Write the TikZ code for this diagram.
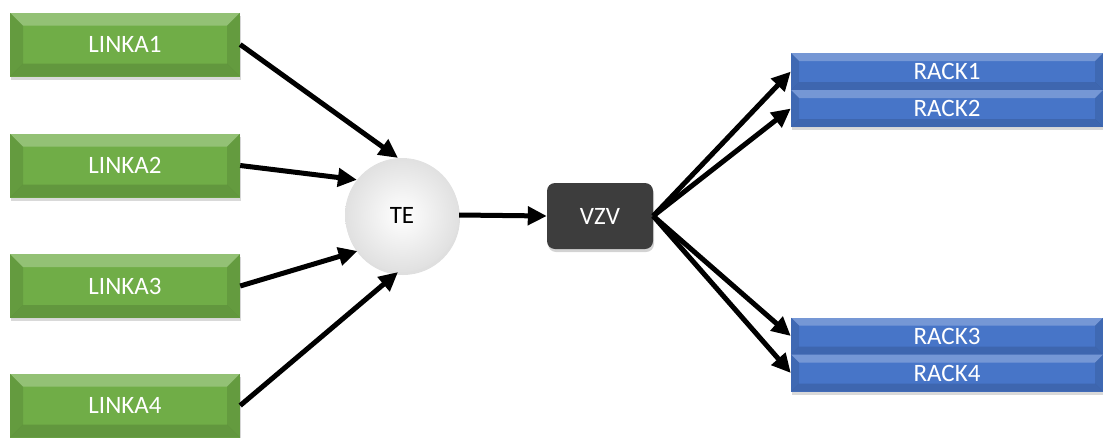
\documentclass[tikz,border=0pt]{standalone}
\usepackage{fontspec}
\setmainfont{Carlito}
\usetikzlibrary{arrows.meta,shadows,calc}

\definecolor{linkgreen}{HTML}{70AD47}
\definecolor{rackblue}{HTML}{4775C8}
\definecolor{vzvgray}{HTML}{3D3D3D}

\tikzset{
  % bevelled facets drawn inside a rectangular node: #1 = bevel size
  facets/.style={path picture={
    \path (path picture bounding box.south west) coordinate (pSW)
          (path picture bounding box.north east) coordinate (pNE);
    \path (pSW |- pNE) coordinate (pNW) (pNE |- pSW) coordinate (pSE);
    \path ([shift={(#1,-#1)}]pNW) coordinate (iNW)
          ([shift={(-#1,-#1)}]pNE) coordinate (iNE)
          ([shift={(-#1,#1)}]pSE) coordinate (iSE)
          ([shift={(#1,#1)}]pSW) coordinate (iSW);
    \fill[white,opacity=.25] (pNW) -- (pNE) -- (iNE) -- (iNW) -- cycle;
    \fill[black,opacity=.10] (pNW) -- (iNW) -- (iSW) -- (pSW) -- cycle;
    \fill[black,opacity=.10] (pNE) -- (iNE) -- (iSE) -- (pSE) -- cycle;
    \fill[black,opacity=.12] (pSW) -- (iSW) -- (iSE) -- (pSE) -- cycle;
  }},
  linkbox/.style={draw=none, fill=linkgreen, minimum width=230pt,
    minimum height=64pt, text=white, font=\fontsize{25}{29}\selectfont,
    facets=13pt,
    drop shadow={shadow xshift=1pt,shadow yshift=-3pt,opacity=.3}},
  rackbox/.style={draw=none, fill=rackblue, minimum width=312pt,
    minimum height=37pt, text=white, font=\fontsize{25}{29}\selectfont,
    facets=8pt,
    drop shadow={shadow xshift=1pt,shadow yshift=-3pt,opacity=.3}},
  hub/.style={circle, minimum size=114pt, draw=none,
    inner color=white, outer color=black!12,
    font=\fontsize{25}{29}\selectfont,
    drop shadow={shadow xshift=1pt,shadow yshift=-3pt,opacity=.25}},
  switchbox/.style={draw=none, fill=vzvgray, rounded corners=8pt,
    minimum width=106pt, minimum height=66pt, text=white,
    font=\fontsize{25}{29}\selectfont,
    drop shadow={shadow xshift=1pt,shadow yshift=-3pt,opacity=.35}},
  arr/.style={line width=5pt, -{Triangle[length=19pt,width=18pt]}}
}

\begin{document}
\begin{tikzpicture}[x=1pt,y=-1pt]
  \useasboundingbox (0,0) rectangle (1103,437);

  % input lines
  \node[linkbox] (L1) at (125,44.5) {LINKA1};
  \node[linkbox] (L2) at (125,165.5) {LINKA2};
  \node[linkbox] (L3) at (125,286) {LINKA3};
  \node[linkbox] (L4) at (125,405.5) {LINKA4};

  % collector and distributor
  \node[hub] (TE) at (402,215) {TE};
  \node[switchbox] (VZV) at (600,216) {VZV};

  % racks
  \node[rackbox] (R1) at (947,71.5) {RACK1};
  \node[rackbox] (R2) at (947,108.5) {RACK2};
  \node[rackbox] (R3) at (947,336) {RACK3};
  \node[rackbox] (R4) at (947,373) {RACK4};

  % connections
  \draw[arr] (L1.east) -- (TE.94);
  \draw[arr] (L2.east) -- (TE.142);
  \draw[arr] (L3.east) -- (TE.219);
  \draw[arr] (L4.east) -- (TE.266);
  \draw[arr] (TE.east) -- (VZV.west);
  \draw[arr] (VZV.east) -- (R1.west);
  \draw[arr] (VZV.east) -- (R2.west);
  \draw[arr] (VZV.east) -- (R3.west);
  \draw[arr] (VZV.east) -- (R4.west);
\end{tikzpicture}
\end{document}
